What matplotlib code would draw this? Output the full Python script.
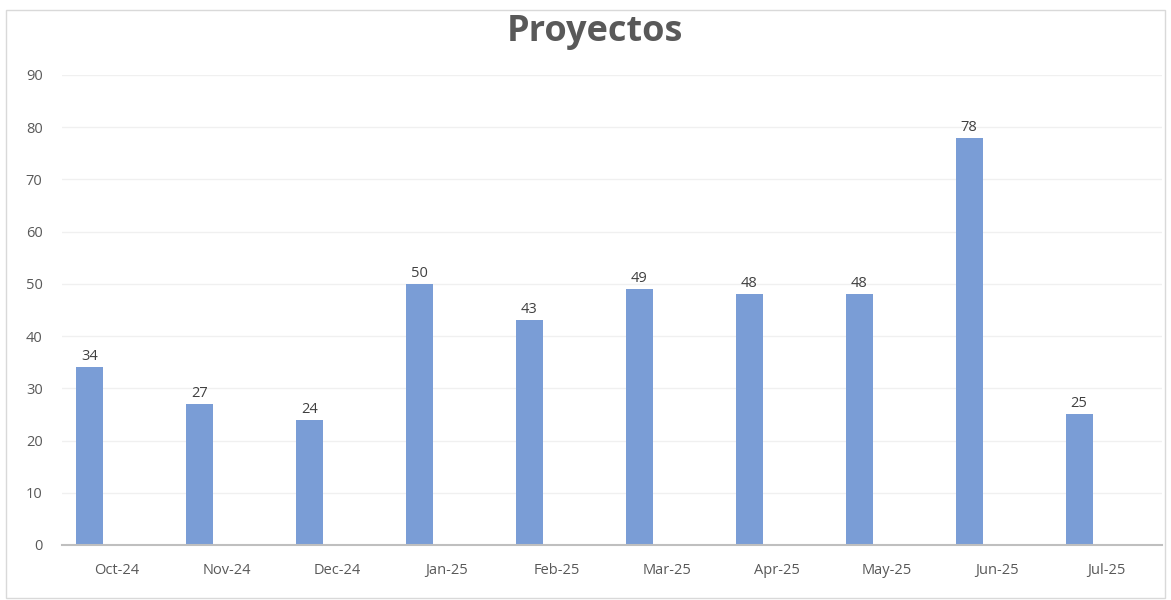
import numpy as np
import matplotlib.pyplot as plt
from matplotlib.patches import Rectangle

months = ['Oct-24', 'Nov-24', 'Dec-24', 'Jan-25', 'Feb-25',
          'Mar-25', 'Apr-25', 'May-25', 'Jun-25', 'Jul-25']
proyectos = [34, 27, 24, 50, 43, 49, 48, 48, 78, 25]
yticks = [0, 10, 20, 30, 40, 50, 60, 70, 80, 90]

plt.rcParams['font.family'] = ['Open Sans', 'DejaVu Sans']

fig = plt.figure(figsize=(11.71, 6.0), dpi=100)
# marco exterior del grafico
fig.patches.append(Rectangle((0.005, 0.003), 0.99, 0.981, transform=fig.transFigure,
                             fill=False, edgecolor='#d9d9d9', linewidth=1))

ax = fig.add_axes([0.053, 0.0917, 0.939, 0.7833])
x = np.arange(len(months))
bars = ax.bar(x - 0.25, proyectos, width=0.245, color='#7a9dd6', zorder=3)

for b, v in zip(bars, proyectos):
    ax.text(b.get_x() + b.get_width() / 2, v + 0.6, str(v), ha='center', va='bottom',
            fontsize=10.5, color='#404040')

ax.set_xlim(-0.5, len(months) - 0.5)
ax.set_ylim(0, 90)
ax.set_yticks(yticks)
ax.set_xticks(x)
ax.set_xticklabels(months)
ax.tick_params(axis='both', length=0, labelsize=10.5, labelcolor='#595959')
ax.tick_params(axis='x', pad=13)
ax.tick_params(axis='y', pad=14)
ax.grid(axis='y', color='#f0f0f0', linewidth=1, zorder=0)
for s in ['top', 'right', 'left']:
    ax.spines[s].set_visible(False)
ax.spines['bottom'].set_color('#bfbfbf')
ax.spines['bottom'].set_linewidth(1.5)
ax.spines['bottom'].set_zorder(4)

fig.text(0.508, 0.946, 'Proyectos', ha='center', va='center', fontsize=26,
         fontweight='bold', color='#595959')

fig.savefig('out.png', dpi=100)
